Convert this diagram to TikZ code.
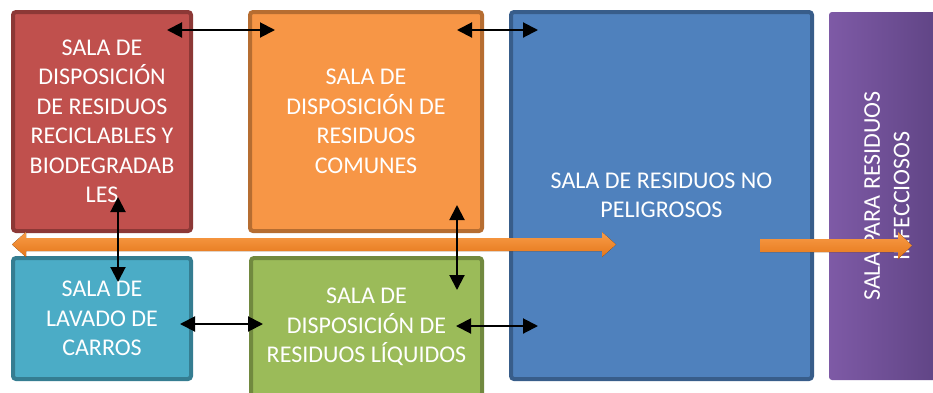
\documentclass[tikz,border=0pt]{standalone}
\usepackage{fontspec}
\setmainfont{Carlito}
\usetikzlibrary{arrows.meta}
\definecolor{redf}{HTML}{C0504D}\definecolor{redd}{HTML}{8C3836}
\definecolor{orf}{HTML}{F79646}\definecolor{ord}{HTML}{B66D31}
\definecolor{bluf}{HTML}{4F81BD}\definecolor{blud}{HTML}{385D8A}
\definecolor{tealf}{HTML}{4BACC6}\definecolor{teald}{HTML}{357D91}
\definecolor{grnf}{HTML}{9BBB59}\definecolor{grnd}{HTML}{71893F}
\definecolor{purL}{HTML}{7E5AA6}\definecolor{purR}{HTML}{5E4383}
\definecolor{orA}{HTML}{F99C48}\definecolor{orB}{HTML}{E4771A}
\begin{document}
\begin{tikzpicture}[x=1pt,y=-1pt,
  room/.style={draw, line width=4pt, rounded corners=3pt, inner sep=0pt,
    text=white, align=center, font=\fontsize{24}{29.5}\selectfont},
  link/.style={{Triangle[length=15pt,width=15pt]}-{Triangle[length=15pt,width=15pt]},
    line width=2pt, black},
  flow/.style={top color=orA, bottom color=orB, draw=none}]
\clip (0,0) rectangle (933,392);
\fill[white] (0,0) rectangle (933,392);
% rooms
\node[room, fill=redf, draw=redd, minimum width=178pt, minimum height=219pt] (red) at (102,121.5)
  {SALA DE\\DISPOSICIÓN\\DE RESIDUOS\\RECICLABLES Y\\BIODEGRADAB\\LES};
\node[room, fill=orf, draw=ord, minimum width=232pt, minimum height=219pt] (orange) at (366,121.5)
  {SALA DE\\DISPOSICIÓN DE\\RESIDUOS\\COMUNES};
\node[room, fill=bluf, draw=blud, minimum width=301pt, minimum height=367pt] (blue) at (661.5,195.5)
  {SALA DE RESIDUOS NO\\PELIGROSOS};
\node[room, fill=tealf, draw=teald, minimum width=178pt, minimum height=121pt] (teal) at (102,318.5)
  {SALA DE\\LAVADO DE\\CARROS};
\node[room, fill=grnf, draw=grnd, minimum width=231pt, minimum height=138pt] (green) at (366.5,327)
  {SALA DE\\DISPOSICIÓN DE\\RESIDUOS LÍQUIDOS};
\node[room, draw=none, left color=purL, right color=purR, minimum width=368pt, minimum height=116pt,
  rotate=90] (purple) at (887,196) {SALA PARA RESIDUOS\\INFECCIOSOS};
% orange flow arrows
\coordinate (fL) at (12,244.5);
\coordinate (fR) at (616,244.5);
\fill[flow] (fL) -- (26,232) -- (26,238) -- (602,238) -- (602,232) -- (fR)
  -- (602,257) -- (602,251) -- (26,251) -- (26,257) -- cycle;
\coordinate (gS) at (760,245.5);
\coordinate (gT) at (912,245.5);
\fill[flow] (760,239) -- (898,239) -- (898,232) -- (gT) -- (898,259) -- (898,252) -- (760,252) -- cycle;
% black links
\coordinate (a1) at (167,30); \coordinate (b1) at (275,30);
\coordinate (a2) at (457,30); \coordinate (b2) at (538,30);
\coordinate (a3) at (118,197); \coordinate (b3) at (118,282);
\coordinate (a4) at (180,324); \coordinate (b4) at (263,324);
\coordinate (a5) at (457,205); \coordinate (b5) at (457,290);
\coordinate (a6) at (456,326); \coordinate (b6) at (538,326);
\draw[link] (a1) -- (b1);
\draw[link] (a2) -- (b2);
\draw[link] (a3) -- (b3);
\draw[link] (a4) -- (b4);
\draw[link] (a5) -- (b5);
\draw[link] (a6) -- (b6);
\end{tikzpicture}
\end{document}
